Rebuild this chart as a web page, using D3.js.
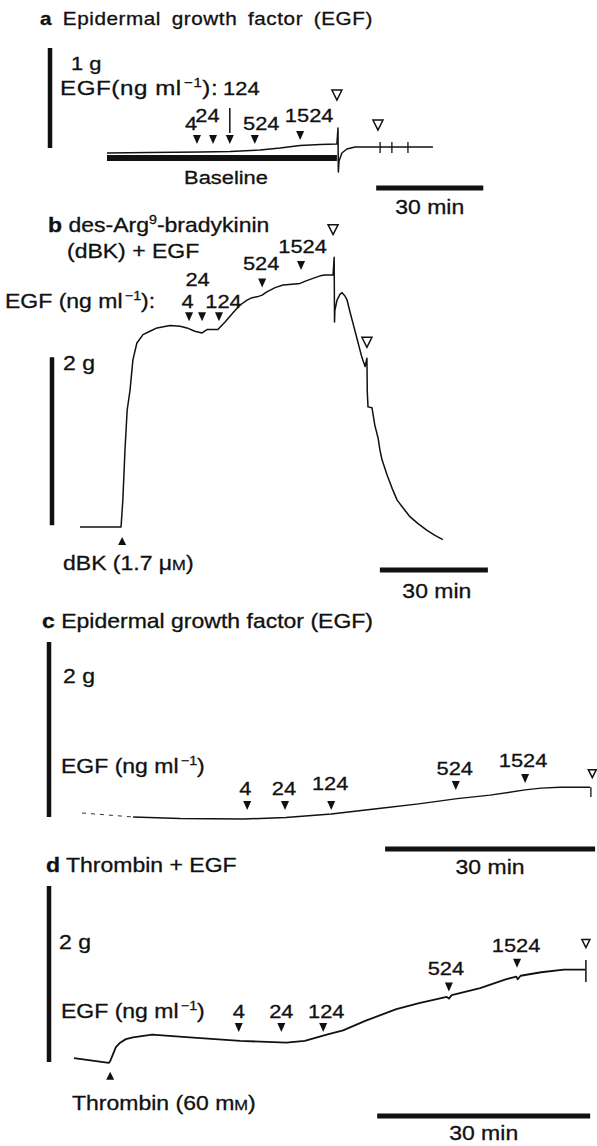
<!DOCTYPE html>
<html>
<head>
<meta charset="utf-8">
<script src="https://cdnjs.cloudflare.com/ajax/libs/d3/7.8.5/d3.min.js"></script>
<style>
  body { margin: 0; background: #fff; }
  svg text { font-family: "Liberation Sans", Arial, Helvetica, sans-serif; fill: #111; stroke: #111; stroke-width: 0.3; }
</style>
</head>
<body>
<svg id="chart" width="597" height="1146"></svg>
<script>
// ---- data (time in min, tension in g) ----
const DOSES = ["4", "24", "124", "524", "1524"];

// a: EGF alone on baseline
const traceA = [[0,.05],[12,.055],[26.1,.06],[34.5,.065],[42.9,.08],[48.5,.10],[54.1,.125],[59.7,.135],[64.4,.14],
  [64.7,.30],[64.8,-.14],[65.0,-.03],[65.8,.05],[67.2,.09],[69.5,.11],[91.3,.11]];
const baselineA = [0, 64.4];
const egfTimesA = [25.2, 29.7, 34.4, 41.4, 54.1];
const egfTipA = [.14, .14, .14, .14, .18];
const washTimesA = [64.4, 75.9];
const washTipA = [.58, .28];
const tickTimesA = [76.5, 79.8, 84.3];

// b: des-Arg9-bradykinin + EGF
const traceB = [[0,0],[11.4,0],[11.9,.32],[12.5,.92],[13.1,1.39],[13.9,1.63],[14.7,1.99],[15.8,2.19],[17.5,2.29],
  [19.4,2.33],[21.4,2.37],[25,2.40],[27.8,2.39],[29.7,2.37],[31.9,2.33],[33.9,2.31],[35.3,2.35],[38.3,2.35],
  [40.3,2.44],[42.5,2.55],[44.4,2.64],[46.4,2.70],[47.8,2.73],[49.2,2.74],[50.6,2.76],[51.9,2.80],[54.2,2.85],
  [56.4,2.88],[58.9,2.89],[61.1,2.90],[62.8,2.93],[64.7,2.96],[66.7,2.99],[68.1,3.00],[70.3,3.00],
  [70.6,3.21],[70.7,2.44],[70.8,2.58],[71.4,2.70],[72.2,2.77],[72.8,2.79],[73.6,2.75],[74.2,2.70],[75,2.56],
  [75.8,2.43],[76.9,2.25],[78.3,2.02],[79.2,1.91],[79.7,2.01],[79.8,1.61],[80,1.43],[81.1,1.42],[81.9,1.21],
  [82.8,1.06],[83.3,.92],[83.9,.80],[85.3,.62],[86.7,.46],[87.5,.38],[88.1,.32],[89.7,.23],[91.7,.12],
  [93.9,.04],[96.4,-.04],[98.6,-.10],[100.8,-.15]];
const egfTimesB = [30.3, 33.9, 38.6, 50.6, 61.4];
const egfTipB = [2.45, 2.45, 2.45, 2.85, 3.06];
const washTimesB = [70.3, 79.7];
const washTipB = [3.48, 2.14];
const dbkTime = 11.7, dbkTip = -0.12;

// c: EGF alone
const dottedC = [[0,.046],[7.3,0]];
const traceC = [[7.3,0],[14,-.017],[23.1,-.023],[29.1,-.006],[35.6,.034],[42.7,.10],[48.1,.15],[53.6,.21],
  [58.3,.25],[63.3,.31],[65.6,.33],[68.3,.34],[72.6,.34]];
const endTickC = [72.7, .34, .23];
const egfTimesC = [23.6, 29.0, 35.6, 53.4, 63.3];
const egfTipC = [.08, .08, .08, .31, .39];
const washTimesC = [72.9];
const washTipC = [.45];

// d: thrombin + EGF
const traceD = [[0,.045],[4.9,-.011],[5.1,.011],[5.5,.09],[5.9,.17],[6.5,.22],[7.3,.26],[8.3,.28],[11,.31],
  [16.3,.28],[23.4,.24],[29.9,.22],[32.5,.24],[35.6,.31],[37.9,.36],[41.1,.47],[45.4,.60],[48.6,.67],
  [52.5,.74],[52.8,.72],[53.2,.76],[57.2,.84],[60.8,.94],[62.3,.97],[62.5,.94],[62.9,.98],[65.8,1.02],
  [69,1.05],[72,1.05]];
const endTickD = [72.1, 1.16, .91];
const egfTimesD = [23.2, 29.2, 35.1, 52.8, 62.4];
const egfTipD = [.34, .34, .34, .80, 1.07];
const washTimesD = [72.1];
const washTipD = [1.30];
const thrombinTime = 5.1, thrombinTip = -0.11;

// ---- layout ----
const SX = 1.15;   // the scanned lettering is wider than Arial
const FS = 20;

const svg = d3.select("#chart");

function scales(x0, ppm, yBase, ppg) {
  return {
    x: d3.scaleLinear().domain([0, 30]).range([x0, x0 + 30 * ppm]),
    y: d3.scaleLinear().domain([0, 1]).range([yBase, yBase - ppg])
  };
}

// text with optional bold / superscript / small-cap pieces
function label(x, y, segs, o = {}) {
  const size = o.size ?? FS;
  const g = svg.append("g").attr("transform", `translate(${x},${y}) scale(${o.sx ?? SX},1)`);
  const t = g.append("text")
    .attr("font-size", size)
    .attr("text-anchor", o.anchor ?? "start")
    .attr("letter-spacing", o.ls ?? 0)
    .attr("word-spacing", o.ws ?? 0);
  let shift = 0;
  segs.forEach(s => {
    if (typeof s === "string") s = { t: s };
    const sp = t.append("tspan").text(s.t);
    if (s.b) sp.attr("font-weight", "bold");
    if (s.sup) {
      sp.attr("font-size", size * 0.62).attr("dy", -size * 0.4 - shift).attr("dx", s.dx ?? 0);
      shift = -size * 0.4;
    } else {
      if (shift) sp.attr("dy", -shift);
      shift = 0;
      if (s.sc) sp.attr("font-size", size * 0.72);
    }
  });
  return t;
}

function downTri(x, y, w, h) { return `M${x - w / 2},${y - h}L${x + w / 2},${y - h}L${x},${y}Z`; }
function upTri(x, y, w, h) { return `M${x - w / 2},${y + h}L${x + w / 2},${y + h}L${x},${y}Z`; }

function drawPanel(s, opt) {
  const line = d3.line().x(d => s.x(d[0])).y(d => s.y(d[1]));

  svg.append("path").datum(opt.trace)
    .attr("d", line).attr("fill", "none")
    .attr("stroke", "#111").attr("stroke-width", opt.lw ?? 1.5)
    .attr("stroke-linejoin", "round");

  // EGF additions
  opt.times.forEach((t, i) => {
    const x = s.x(t), y = s.y(opt.tips[i]);
    svg.append("path").attr("d", downTri(x, y, 8, 9)).attr("fill", "#111");
    const off = opt.off[i];
    label(x + off[0], y + off[1], [DOSES[i]], { anchor: "middle", size: opt.numSize ?? 19 });
  });

  // washouts (open triangles)
  opt.washT.forEach((t, i) => {
    svg.append("path").attr("d", downTri(s.x(t), s.y(opt.washTip[i]), opt.ow ?? 10, opt.ow ?? 10))
      .attr("fill", "#fff").attr("stroke", "#111").attr("stroke-width", 1.5);
  });

  // scale bars
  svg.append("line")
    .attr("x1", opt.gBarX).attr("x2", opt.gBarX)
    .attr("y1", s.y(opt.gBar[0])).attr("y2", s.y(opt.gBar[1]))
    .attr("stroke", "#111").attr("stroke-width", 4.5);
  svg.append("line")
    .attr("x1", s.x(opt.tBar)).attr("x2", s.x(opt.tBar + 30))
    .attr("y1", opt.tBarY).attr("y2", opt.tBarY)
    .attr("stroke", "#111").attr("stroke-width", 5);
  label((s.x(opt.tBar) + s.x(opt.tBar + 30)) / 2 + (opt.minDx ?? 0), opt.tBarY + opt.minDy, ["30 min"], { anchor: "middle" });
}

// ---- a ----
const sA = scales(107, 3.57, 158, 100);
svg.append("line")
  .attr("x1", sA.x(baselineA[0])).attr("x2", sA.x(baselineA[1]))
  .attr("y1", sA.y(0)).attr("y2", sA.y(0))
  .attr("stroke", "#111").attr("stroke-width", 6);
drawPanel(sA, {
  trace: traceA, times: egfTimesA, tips: egfTipA,
  off: [[-6, -14], [-5.5, -22], [11.5, -49], [6.5, -14], [9, -18]],
  washT: washTimesA, washTip: washTipA,
  gBarX: 50, gBar: [.1, 1.1], tBar: 75.4, tBarY: 188, minDy: 26
});
tickTimesA.forEach(t => {
  svg.append("line").attr("x1", sA.x(t)).attr("x2", sA.x(t))
    .attr("y1", sA.y(.11) - 5).attr("y2", sA.y(.11) + 6)
    .attr("stroke", "#111").attr("stroke-width", 1.3);
});
// connector between "124" and its arrow
svg.append("line")
  .attr("x1", sA.x(egfTimesA[2])).attr("x2", sA.x(egfTimesA[2]))
  .attr("y1", sA.y(egfTipA[2]) - 11).attr("y2", sA.y(egfTipA[2]) - 36)
  .attr("stroke", "#111").attr("stroke-width", 1.5);
label(40, 25, [{ t: "a", b: true }, " Epidermal growth factor (EGF)"], { size: 18, ls: 0.5, ws: 3.8 });
label(71, 70, ["1 g"], { size: 19 });
label(60, 95, ["EGF(ng ml", { t: "−1", sup: true, dx: 2 }, "):"], { size: 21, ls: 0.5 });
label(226, 184, ["Baseline"], { anchor: "middle", size: 19 });

// ---- b ----
const sB = scales(80, 3.6, 527, 84);
drawPanel(sB, {
  trace: traceB, times: egfTimesB, tips: egfTipB,
  off: [[-1.5, -13], [-4.5, -35], [4.5, -13], [-1, -18], [1.5, -17]],
  washT: washTimesB, washTip: washTipB,
  gBarX: 52, gBar: [0.02, 2.02], tBar: 83.3, tBarY: 570, minDy: 28, minDx: 3
});
svg.append("path").attr("d", upTri(sB.x(dbkTime), sB.y(dbkTip), 8, 8)).attr("fill", "#111");
label(48, 232, [{ t: "b", b: true }, " des-Arg", { t: "9", sup: true }, "-bradykinin"]);
label(67, 258, ["(dBK) + EGF"]);
label(5, 308, ["EGF (ng ml", { t: "−1", sup: true, dx: 2 }, "):"]);
label(63, 370, ["2 g"]);
label(63, 570, ["dBK (1.7 μ", { t: "M", sc: true }, ")"]);

// ---- c ----
const sC = scales(82, 7.0, 817, 87.5);
svg.append("path").datum(dottedC)
  .attr("d", d3.line().x(d => sC.x(d[0])).y(d => sC.y(d[1])))
  .attr("fill", "none").attr("stroke", "#333").attr("stroke-width", 1)
  .attr("stroke-dasharray", "4,5");
drawPanel(sC, {
  trace: traceC, times: egfTimesC, tips: egfTipC,
  off: [[-2, -15], [-1, -15], [-1, -20], [-1, -15], [-2, -16]],
  washT: washTimesC, washTip: washTipC, ow: 8,
  gBarX: 49, gBar: [0, 2], tBar: 43.3, tBarY: 849, minDy: 25
});
svg.append("line").attr("x1", sC.x(endTickC[0])).attr("x2", sC.x(endTickC[0]))
  .attr("y1", sC.y(endTickC[1])).attr("y2", sC.y(endTickC[2]))
  .attr("stroke", "#111").attr("stroke-width", 1.3);
label(42, 628, [{ t: "c", b: true }, " Epidermal growth factor (EGF)"]);
label(63, 683, ["2 g"]);
label(61, 773, ["EGF (ng ml", { t: "−1", sup: true, dx: 2 }, ")"]);

// ---- d ----
const sD = scales(74, 7.1, 1062, 88);
drawPanel(sD, {
  trace: traceD, times: egfTimesD, tips: egfTipD, lw: 1.8,
  off: [[0, -14], [0, -14], [3, -14], [-3, -17], [-1, -16]],
  washT: washTimesD, washTip: washTipD, ow: 8,
  gBarX: 49, gBar: [0, 2], tBar: 42.7, tBarY: 1116, minDy: 24
});
svg.append("line").attr("x1", sD.x(endTickD[0])).attr("x2", sD.x(endTickD[0]))
  .attr("y1", sD.y(endTickD[1])).attr("y2", sD.y(endTickD[2]))
  .attr("stroke", "#111").attr("stroke-width", 1.5);
svg.append("path").attr("d", upTri(sD.x(thrombinTime), sD.y(thrombinTip), 8, 8)).attr("fill", "#111");
label(46, 872, [{ t: "d", b: true }, " Thrombin + EGF"]);
label(59, 949, ["2 g"]);
label(61, 1018, ["EGF (ng ml", { t: "−1", sup: true, dx: 2 }, ")"]);
label(72, 1110, ["Thrombin (60 m", { t: "M", sc: true }, ")"]);
</script>
</body>
</html>
